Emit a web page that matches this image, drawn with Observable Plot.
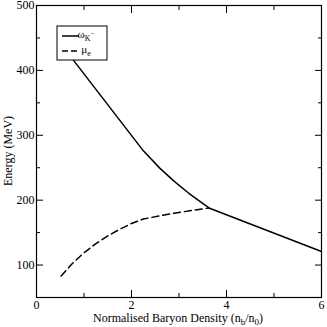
<!DOCTYPE html>
<html><head><meta charset="utf-8">
<script src="https://cdn.jsdelivr.net/npm/d3@7"></script>
<script src="https://cdn.jsdelivr.net/npm/@observablehq/plot@0.6"></script>
<style>body{margin:0;background:#fff}#c{width:327px;height:327px}
svg text{font-family:'Liberation Serif','Times New Roman',serif !important;}</style>
</head><body><div id="c"></div>
<script>
const kaonX = [0.5, 2.25, 2.6, 2.9, 3.2, 3.63, 6.0];
const kaonY = [442, 276, 249, 229, 211, 188, 121];
const elecX = [0.52, 0.75, 1.0, 1.25, 1.5, 1.75, 2.0, 2.25, 2.9, 3.63];
const elecY = [83, 102, 119, 133, 145, 155, 164, 171, 180, 188];
const xMajor = [0, 2, 4, 6];
const xMinor = [1, 3, 5];
const yMajor = [100, 200, 300, 400, 500];
const yMinor = [50, 150, 250, 350, 450];

const kaon = kaonX.map((x, i) => ({x, y: kaonY[i]}));
const elec = elecX.map((x, i) => ({x, y: elecY[i]}));
const font = "'Liberation Serif', 'Times New Roman', serif";

const plot = Plot.plot({
  width: 327, height: 327,
  marginLeft: 36, marginRight: 6, marginTop: 5, marginBottom: 30,
  style: {fontFamily: font, fontSize: "12px", color: "#000", background: "#fff", overflow: "visible"},
  x: {domain: [0, 6]},
  y: {domain: [50, 500]},
  marks: [
    Plot.line(kaon, {x: "x", y: "y", stroke: "#000", strokeWidth: 1.5}),
    Plot.line(elec, {x: "x", y: "y", stroke: "#000", strokeWidth: 1.5, strokeDasharray: "7,4"}),
    Plot.axisX(xMajor, {anchor: "bottom", tickSize: -7, tickPadding: 10, label: null, tickFormat: d => String(d), fontSize: 12}),
    Plot.axisX(xMinor, {anchor: "bottom", tickSize: -4, label: null, tickFormat: () => ""}),
    Plot.axisX(xMajor, {anchor: "top", tickSize: -7, label: null, tickFormat: () => ""}),
    Plot.axisX(xMinor, {anchor: "top", tickSize: -4, label: null, tickFormat: () => ""}),
    Plot.axisY(yMajor, {anchor: "left", tickSize: -7, tickPadding: 9, label: null, tickFormat: d => String(d), fontSize: 12}),
    Plot.axisY(yMinor, {anchor: "left", tickSize: -4, label: null, tickFormat: () => ""}),
    Plot.axisY(yMajor, {anchor: "right", tickSize: -7, label: null, tickFormat: () => ""}),
    Plot.axisY(yMinor, {anchor: "right", tickSize: -4, label: null, tickFormat: () => ""}),
    Plot.frame({stroke: "#000", strokeWidth: 1.2})
  ]
});
document.getElementById("c").appendChild(plot);

const svg = d3.select(plot);
// axis labels
const xl = svg.append("text").attr("x", 178).attr("y", 322).attr("text-anchor", "middle")
  .style("font-family", font).style("font-size", "12px").attr("fill", "#000");
xl.append("tspan").text("Normalised Baryon Density (n");
xl.append("tspan").attr("dy", 3).style("font-size", "9px").text("b");
xl.append("tspan").attr("dy", -3).text("/n");
xl.append("tspan").attr("dy", 3).style("font-size", "9px").text("0");
xl.append("tspan").attr("dy", -3).text(")");
svg.append("text").attr("transform", "translate(12,151) rotate(-90)").attr("text-anchor", "middle")
  .style("font-family", font).style("font-size", "12px").attr("fill", "#000").text("Energy (MeV)");

// legend
const lg = svg.append("g");
lg.append("rect").attr("x", 57).attr("y", 26).attr("width", 50).attr("height", 34)
  .attr("fill", "#fff").attr("stroke", "#000").attr("stroke-width", 1);
lg.append("line").attr("x1", 62).attr("x2", 79).attr("y1", 36).attr("y2", 36).attr("stroke", "#000").attr("stroke-width", 1.5);
lg.append("line").attr("x1", 62).attr("x2", 79).attr("y1", 51).attr("y2", 51).attr("stroke", "#000").attr("stroke-width", 1.5).attr("stroke-dasharray", "6,3");
const t1 = lg.append("text").attr("x", 86).attr("y", 38).style("font-family", font).style("font-size", "11px").attr("fill", "#000");
t1.append("tspan").text("ω");
t1.append("tspan").attr("dy", 3).style("font-size", "8px").text("K");
t1.append("tspan").attr("dy", -5).style("font-size", "7px").text("−");
const t2 = lg.append("text").attr("x", 86).attr("y", 53).style("font-family", font).style("font-size", "11px").attr("fill", "#000");
t2.append("tspan").text("μ");
t2.append("tspan").attr("dy", 3).style("font-size", "8px").text("e");
</script>
</body></html>
